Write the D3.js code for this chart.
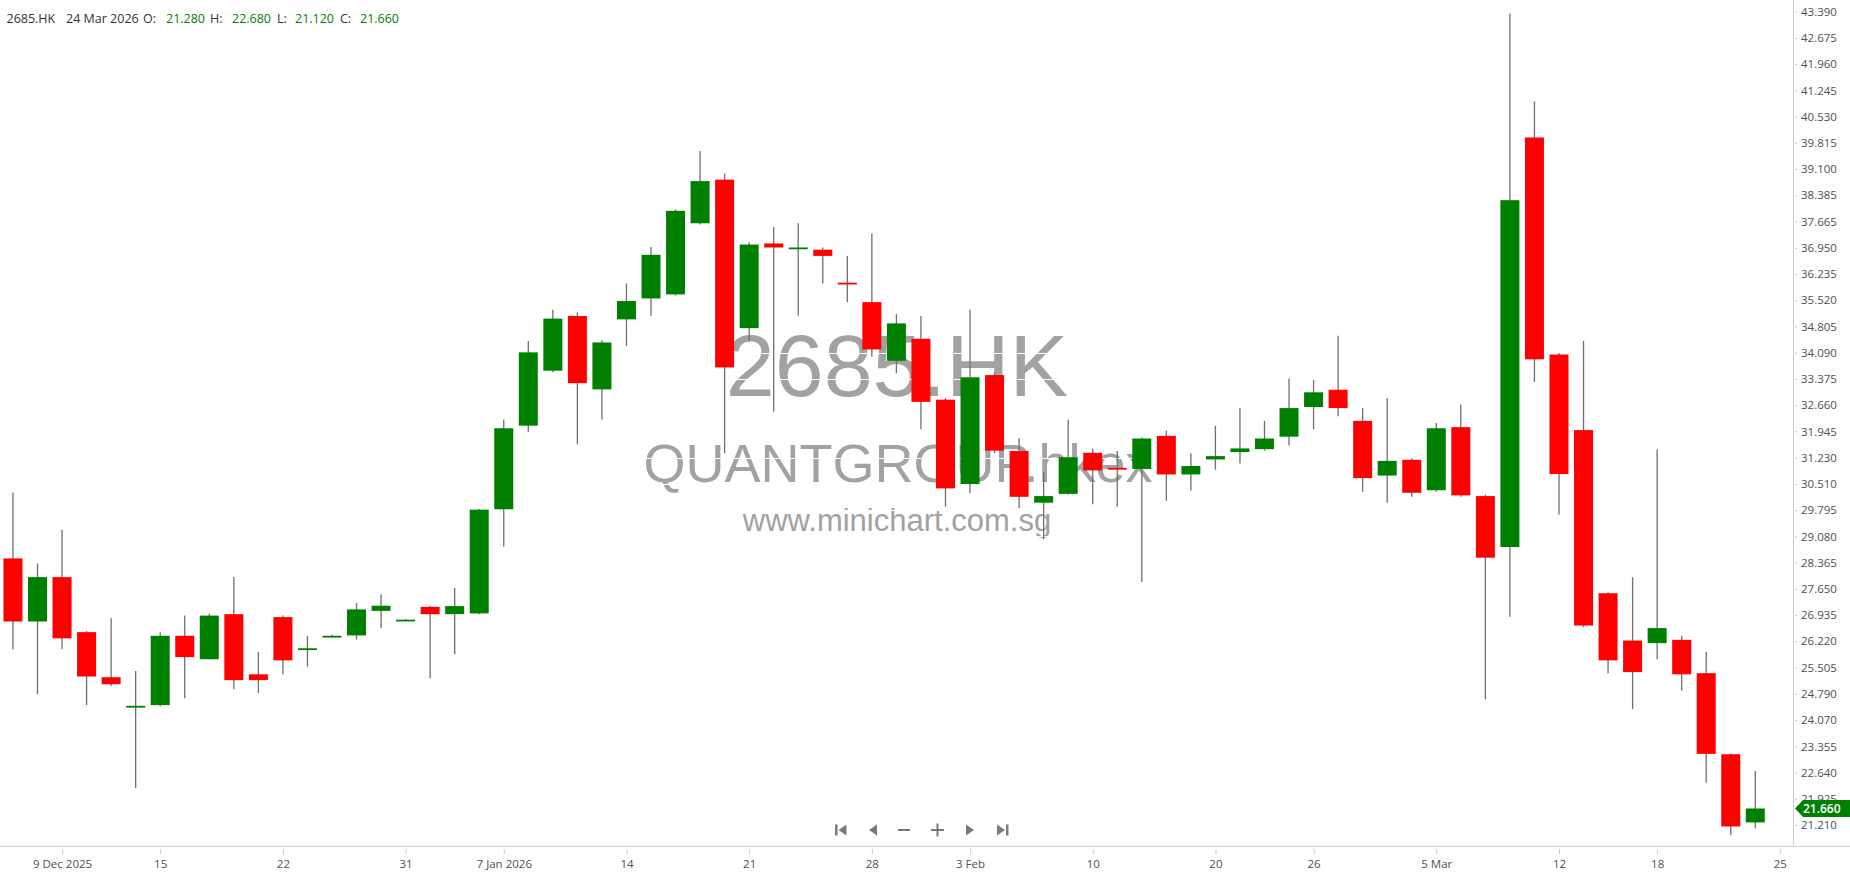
<!DOCTYPE html>
<html>
<head>
<meta charset="utf-8">
<script src="https://cdn.jsdelivr.net/npm/d3@7"></script>
<style>
body { margin: 0; background: #fff; overflow: hidden; }
svg { display: block; }
</style>
</head>
<body>
<script>
var width = 1850
var height = 874
var axis_x = 1793
var axis_y = 847
var body_w = 19

// one entry per trading day, 5 Dec 2025 .. 24 Mar 2026
var days = ["2025-12-05","2025-12-08","2025-12-09","2025-12-10","2025-12-11","2025-12-12",
  "2025-12-15","2025-12-16","2025-12-17","2025-12-18","2025-12-19","2025-12-22","2025-12-23",
  "2025-12-24","2025-12-29","2025-12-30","2025-12-31","2026-01-02","2026-01-05","2026-01-06",
  "2026-01-07","2026-01-08","2026-01-09","2026-01-12","2026-01-13","2026-01-14","2026-01-15",
  "2026-01-16","2026-01-19","2026-01-20","2026-01-21","2026-01-22","2026-01-23","2026-01-26",
  "2026-01-27","2026-01-28","2026-01-29","2026-01-30","2026-02-02","2026-02-03","2026-02-04",
  "2026-02-05","2026-02-06","2026-02-09","2026-02-10","2026-02-11","2026-02-12","2026-02-13",
  "2026-02-16","2026-02-20","2026-02-23","2026-02-24","2026-02-25","2026-02-26","2026-02-27",
  "2026-03-02","2026-03-03","2026-03-04","2026-03-05","2026-03-06","2026-03-09","2026-03-10",
  "2026-03-11","2026-03-12","2026-03-13","2026-03-16","2026-03-17","2026-03-18","2026-03-19",
  "2026-03-20","2026-03-23","2026-03-24"]
var next_day = "2026-03-25"

var opens = [28.48,26.76,27.97,26.47,25.24,24.44,24.48,26.37,25.73,26.96,25.32,26.88,26.01,
  26.35,26.38,27.05,26.79,27.16,26.96,26.98,29.82,32.10,33.60,35.09,33.09,35.00,35.57,
  35.68,37.62,38.81,34.76,37.07,36.94,36.90,36.00,35.47,33.87,34.47,32.81,30.51,33.48,
  31.41,30.00,30.24,31.36,30.95,30.92,31.82,30.77,31.18,31.38,31.46,31.80,32.61,33.08,
  32.23,30.74,31.17,30.34,32.06,30.18,28.79,39.96,34.04,31.98,27.53,26.24,26.17,26.26,
  25.35,23.14,21.28]
var highs = [30.28,28.34,29.26,26.50,26.85,25.41,26.47,26.92,26.98,27.97,25.93,26.92,26.37,
  26.40,27.26,27.50,26.83,27.19,27.67,29.83,32.27,34.41,35.26,35.19,34.43,35.98,36.97,
  38.00,39.59,38.98,37.10,37.52,37.62,36.96,36.73,37.34,35.14,35.09,32.85,35.26,33.55,
  31.76,30.83,32.26,31.48,31.41,31.78,31.96,31.35,32.10,32.58,32.23,33.39,33.35,34.55,
  32.58,32.85,31.21,32.17,32.68,30.22,43.34,40.95,34.08,34.41,27.56,27.97,31.45,26.37,
  25.93,23.17,22.68]
var lows = [26.00,24.78,26.00,24.48,25.00,22.22,24.45,24.67,25.73,24.91,24.81,25.32,25.53,
  26.35,26.27,26.58,26.78,25.21,25.87,26.96,28.80,31.93,33.56,31.59,32.27,34.28,35.10,
  35.65,37.59,31.35,34.39,32.48,35.10,35.98,35.47,33.98,33.53,32.00,29.89,30.26,31.35,
  29.85,29.00,30.22,29.96,29.89,27.84,30.05,30.33,30.90,31.07,31.42,31.56,32.00,32.36,
  30.30,30.00,30.16,30.30,30.16,24.64,26.89,33.29,29.68,26.60,25.35,24.37,25.73,24.87,
  22.36,20.94,21.12]
var closes = [26.76,27.97,26.30,25.26,25.05,24.46,26.37,25.79,26.92,25.16,25.16,25.70,26.03,
  26.37,27.09,27.19,26.81,26.96,27.18,29.81,32.03,34.10,35.02,33.26,34.37,35.50,36.76,
  37.96,38.77,33.69,37.04,36.96,36.96,36.73,35.96,34.18,34.89,32.75,30.39,33.42,31.42,
  30.16,30.18,31.24,30.88,30.93,31.75,30.77,31.00,31.27,31.48,31.75,32.58,33.01,32.58,
  30.67,31.14,30.27,32.03,30.20,28.50,38.25,33.91,30.78,26.65,25.70,25.38,26.58,25.32,
  23.15,21.17,21.66]

var price_ticks = ["43.390","42.675","41.960","41.245","40.530","39.815","39.100","38.385",
  "37.665","36.950","36.235","35.520","34.805","34.090","33.375","32.660","31.945","31.230",
  "30.510","29.795","29.080","28.365","27.650","26.935","26.220","25.505","24.790","24.070",
  "23.355","22.640","21.925","21.210"]
var date_tick_days = ["2025-12-09","2025-12-15","2025-12-22","2025-12-31","2026-01-07",
  "2026-01-14","2026-01-21","2026-01-28","2026-02-03","2026-02-10","2026-02-20","2026-02-26",
  "2026-03-05","2026-03-12","2026-03-18","2026-03-25"]
var date_tick_labels = ["9 Dec 2025","15","22","31","7 Jan 2026","14","21","28","3 Feb",
  "10","20","26","5 Mar","12","18","25"]

var symbol = "2685.HK"
var last_date = "24 Mar 2026"

var dataset = days.map(function(d, i) {
  return { day: d, o: opens[i], h: highs[i], l: lows[i], c: closes[i] }
})

var x = d3.scalePoint()
  .domain(days.concat([next_day]))
  .range([12.96, 1779.84])

var y = d3.scaleLinear()
  .domain([21.21, 43.39])
  .range([825, 11.7])

var svg = d3.select("body").append("svg")
  .attr("width", width)
  .attr("height", height)
  .style("font-family", "'Open Sans', 'Liberation Sans', sans-serif")

// watermark
var wm = svg.append("g")
  .attr("fill", "#a2a2a2")
  .attr("text-anchor", "middle")
  .style("font-family", "'Liberation Sans', Arial, sans-serif")
wm.append("text").attr("x", 897).attr("y", 396).style("font-size", "88px").text(symbol)
wm.append("text").attr("x", 898).attr("y", 482).style("font-size", "54px").text("QUANTGROUP.hkex")
wm.append("text").attr("x", 897).attr("y", 531).style("font-size", "31px").text("www.minichart.com.sg")

// white grid lines (only visible over the watermark)
svg.append("g")
  .selectAll("line")
  .data(price_ticks)
  .enter().append("line")
  .attr("x1", 0)
  .attr("x2", axis_x)
  .attr("y1", function(d) { return Math.round(y(+d)) + 0.5 })
  .attr("y2", function(d) { return Math.round(y(+d)) + 0.5 })
  .attr("stroke", "#ffffff")
  .attr("stroke-width", 1)

// candles
var candles = svg.append("g")
  .selectAll("g")
  .data(dataset)
  .enter().append("g")

candles.append("line")
  .attr("x1", function(d) { return x(d.day) })
  .attr("x2", function(d) { return x(d.day) })
  .attr("y1", function(d) { return y(d.h) })
  .attr("y2", function(d) { return y(d.l) })
  .attr("stroke", "#6f6f6f")
  .attr("stroke-width", 1.3)

candles.append("rect")
  .attr("x", function(d) { return x(d.day) - body_w / 2 })
  .attr("width", body_w)
  .attr("y", function(d) { return y(Math.max(d.o, d.c)) })
  .attr("height", function(d) { return Math.max(1.8, Math.abs(y(d.o) - y(d.c))) })
  .attr("fill", function(d) { return d.c >= d.o ? "#008000" : "#ff0000" })

// right price axis
var y_axis = svg.append("g")
  .attr("transform", "translate(" + axis_x + ",0)")
  .call(d3.axisRight(y)
    .tickValues(price_ticks.map(Number))
    .tickFormat(function(d, i) { return price_ticks[i] })
    .tickSize(4)
    .tickPadding(4))
y_axis.select(".domain").remove()
y_axis.selectAll(".tick line").attr("stroke", "#c4c4c4").attr("x1", 2)
y_axis.selectAll(".tick text")
  .attr("fill", "#505050")
  .style("font-size", "11.5px")
  .style("font-family", "'Open Sans', sans-serif")

svg.append("line")
  .attr("x1", axis_x + 0.5).attr("x2", axis_x + 0.5)
  .attr("y1", 0).attr("y2", axis_y)
  .attr("stroke", "#cfcfcf")

// bottom date axis
var x_axis = svg.append("g")
  .attr("transform", "translate(0," + axis_y + ")")
  .call(d3.axisBottom(x)
    .tickValues(date_tick_days)
    .tickFormat(function(d, i) { return date_tick_labels[i] })
    .tickSize(7)
    .tickPadding(6))
x_axis.select(".domain").remove()
x_axis.selectAll(".tick line").attr("stroke", "#cccccc").attr("y1", 2)
x_axis.selectAll(".tick text")
  .attr("fill", "#505050")
  .style("font-size", "11.5px")
  .style("font-family", "'Open Sans', sans-serif")

svg.append("line")
  .attr("x1", 0).attr("x2", width)
  .attr("y1", axis_y - 0.5).attr("y2", axis_y - 0.5)
  .attr("stroke", "#cfcfcf")

// last price badge
var last = dataset[dataset.length - 1]
var ly = y(last.c)
svg.append("path")
  .attr("d", "M" + (axis_x + 2) + "," + ly + " L" + (axis_x + 10) + "," + (ly - 8.5) +
    " L" + width + "," + (ly - 8.5) + " L" + width + "," + (ly + 8.5) +
    " L" + (axis_x + 10) + "," + (ly + 8.5) + " Z")
  .attr("fill", "#008000")
svg.append("text")
  .attr("x", axis_x + 10)
  .attr("y", ly)
  .attr("dy", "0.36em")
  .attr("fill", "#ffffff")
  .style("font-size", "12px")
  .style("font-weight", "600")
  .text(last.c.toFixed(3))

// header line
var header = [
  [6.5, symbol, "#333333"],
  [66, last_date, "#333333"],
  [143, "O:", "#333333"],
  [166, last.o.toFixed(3), "#008000"],
  [210, "H:", "#333333"],
  [232, last.h.toFixed(3), "#008000"],
  [277, "L:", "#333333"],
  [295, last.l.toFixed(3), "#008000"],
  [340, "C:", "#333333"],
  [360, last.c.toFixed(3), "#008000"]
]
svg.append("g")
  .selectAll("text")
  .data(header)
  .enter().append("text")
  .attr("x", function(d) { return d[0] })
  .attr("y", 22.5)
  .attr("fill", function(d) { return d[2] })
  .style("font-size", "12.5px")
  .text(function(d) { return d[1] })

// navigation buttons
var nav = svg.append("g").attr("fill", "#7a7a7a")
nav.append("rect").attr("x", 835).attr("y", 824.5).attr("width", 2.5).attr("height", 11)
nav.append("path").attr("d", "M838.5,830 L846.5,824.5 L846.5,835.5 Z")
nav.append("path").attr("d", "M869,830 L877,824.5 L877,835.5 Z")
nav.append("rect").attr("x", 898).attr("y", 829).attr("width", 12).attr("height", 2)
nav.append("rect").attr("x", 931).attr("y", 829).attr("width", 13).attr("height", 2)
nav.append("rect").attr("x", 936.5).attr("y", 823.5).attr("width", 2).attr("height", 13)
nav.append("path").attr("d", "M966,824.5 L974,830 L966,835.5 Z")
nav.append("path").attr("d", "M997,824.5 L1005,830 L997,835.5 Z")
nav.append("rect").attr("x", 1006).attr("y", 824.5).attr("width", 2.5).attr("height", 11)
</script>
</body>
</html>
